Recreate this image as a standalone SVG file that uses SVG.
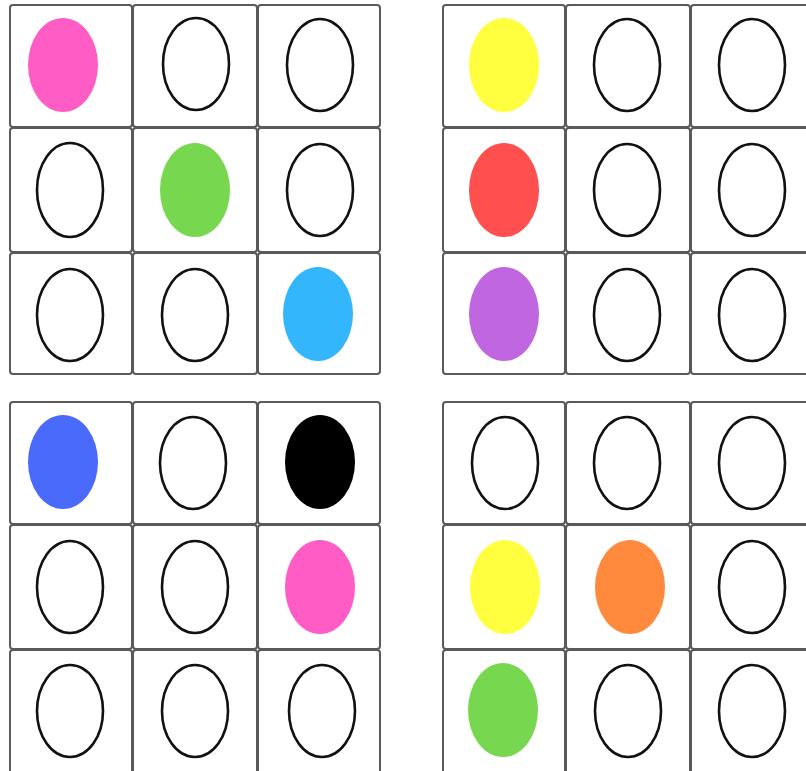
<svg xmlns="http://www.w3.org/2000/svg" width="806" height="771" viewBox="0 0 806 771">
<style>
.cell{fill:#fff;stroke:#5a5a5a;stroke-width:2}
.o{fill:#fff;stroke:#111;stroke-width:2.6}
.f{stroke:none}
</style>
<rect width="806" height="771" fill="#fff"/>
<g id="grid-top-left">
<rect class="cell" x="10" y="5" width="122" height="122" rx="3"/>
<rect class="cell" x="133" y="5" width="124" height="122" rx="3"/>
<rect class="cell" x="258" y="5" width="122" height="122" rx="3"/>
<rect class="cell" x="10" y="128" width="122" height="124" rx="3"/>
<rect class="cell" x="133" y="128" width="124" height="124" rx="3"/>
<rect class="cell" x="258" y="128" width="122" height="124" rx="3"/>
<rect class="cell" x="10" y="253" width="122" height="121" rx="3"/>
<rect class="cell" x="133" y="253" width="124" height="121" rx="3"/>
<rect class="cell" x="258" y="253" width="122" height="121" rx="3"/>
<ellipse class="f" cx="63" cy="65" rx="35" ry="47" fill="#ff5cc6"/>
<ellipse class="o" cx="196" cy="64" rx="33" ry="46"/>
<ellipse class="o" cx="320" cy="65" rx="33" ry="46"/>
<ellipse class="o" cx="70" cy="190" rx="33" ry="47"/>
<ellipse class="f" cx="195" cy="190" rx="35" ry="47" fill="#77d84f"/>
<ellipse class="o" cx="320" cy="190" rx="33" ry="46"/>
<ellipse class="o" cx="70" cy="315" rx="33" ry="46"/>
<ellipse class="o" cx="195" cy="315" rx="33" ry="46"/>
<ellipse class="f" cx="318" cy="314" rx="35" ry="47" fill="#34b6fc"/>
</g>
<g id="grid-top-right">
<rect class="cell" x="443" y="5" width="122" height="122" rx="3"/>
<rect class="cell" x="566" y="5" width="124" height="122" rx="3"/>
<rect class="cell" x="691" y="5" width="122" height="122" rx="3"/>
<rect class="cell" x="443" y="128" width="122" height="124" rx="3"/>
<rect class="cell" x="566" y="128" width="124" height="124" rx="3"/>
<rect class="cell" x="691" y="128" width="122" height="124" rx="3"/>
<rect class="cell" x="443" y="253" width="122" height="121" rx="3"/>
<rect class="cell" x="566" y="253" width="124" height="121" rx="3"/>
<rect class="cell" x="691" y="253" width="122" height="121" rx="3"/>
<ellipse class="f" cx="504" cy="65" rx="35" ry="47" fill="#ffff40"/>
<ellipse class="o" cx="627" cy="65" rx="33" ry="46"/>
<ellipse class="o" cx="752" cy="65" rx="33" ry="46"/>
<ellipse class="f" cx="504" cy="190" rx="35" ry="47" fill="#ff4f4f"/>
<ellipse class="o" cx="627" cy="190" rx="33" ry="46"/>
<ellipse class="o" cx="752" cy="190" rx="33" ry="46"/>
<ellipse class="f" cx="504" cy="314" rx="35" ry="47" fill="#bf66e0"/>
<ellipse class="o" cx="627" cy="315" rx="33" ry="46"/>
<ellipse class="o" cx="752" cy="315" rx="33" ry="46"/>
</g>
<g id="grid-bottom-left">
<rect class="cell" x="10" y="402" width="122" height="122" rx="3"/>
<rect class="cell" x="133" y="402" width="124" height="122" rx="3"/>
<rect class="cell" x="258" y="402" width="122" height="122" rx="3"/>
<rect class="cell" x="10" y="525" width="122" height="124" rx="3"/>
<rect class="cell" x="133" y="525" width="124" height="124" rx="3"/>
<rect class="cell" x="258" y="525" width="122" height="124" rx="3"/>
<rect class="cell" x="10" y="650" width="122" height="124" rx="3"/>
<rect class="cell" x="133" y="650" width="124" height="124" rx="3"/>
<rect class="cell" x="258" y="650" width="122" height="124" rx="3"/>
<ellipse class="f" cx="63" cy="462" rx="35" ry="47" fill="#4a6afc"/>
<ellipse class="o" cx="193" cy="463" rx="33" ry="46"/>
<ellipse class="f" cx="320" cy="462" rx="35" ry="47" fill="#000"/>
<ellipse class="o" cx="70" cy="587" rx="33" ry="46"/>
<ellipse class="o" cx="195" cy="587" rx="33" ry="46"/>
<ellipse class="f" cx="320" cy="587" rx="35" ry="47" fill="#ff5cc6"/>
<ellipse class="o" cx="70" cy="711" rx="33" ry="46"/>
<ellipse class="o" cx="195" cy="711" rx="33" ry="46"/>
<ellipse class="o" cx="322" cy="711" rx="33" ry="46"/>
</g>
<g id="grid-bottom-right">
<rect class="cell" x="443" y="402" width="122" height="122" rx="3"/>
<rect class="cell" x="566" y="402" width="124" height="122" rx="3"/>
<rect class="cell" x="691" y="402" width="122" height="122" rx="3"/>
<rect class="cell" x="443" y="525" width="122" height="124" rx="3"/>
<rect class="cell" x="566" y="525" width="124" height="124" rx="3"/>
<rect class="cell" x="691" y="525" width="122" height="124" rx="3"/>
<rect class="cell" x="443" y="650" width="122" height="124" rx="3"/>
<rect class="cell" x="566" y="650" width="124" height="124" rx="3"/>
<rect class="cell" x="691" y="650" width="122" height="124" rx="3"/>
<ellipse class="o" cx="505" cy="463" rx="33" ry="46"/>
<ellipse class="o" cx="627" cy="463" rx="33" ry="46"/>
<ellipse class="o" cx="752" cy="463" rx="33" ry="46"/>
<ellipse class="f" cx="505" cy="587" rx="35" ry="47" fill="#ffff40"/>
<ellipse class="f" cx="630" cy="587" rx="35" ry="47" fill="#ff8a3d"/>
<ellipse class="o" cx="752" cy="587" rx="33" ry="46"/>
<ellipse class="f" cx="503" cy="710" rx="35" ry="47" fill="#77d84f"/>
<ellipse class="o" cx="628" cy="711" rx="33" ry="46"/>
<ellipse class="o" cx="752" cy="711" rx="33" ry="46"/>
</g>
</svg>
